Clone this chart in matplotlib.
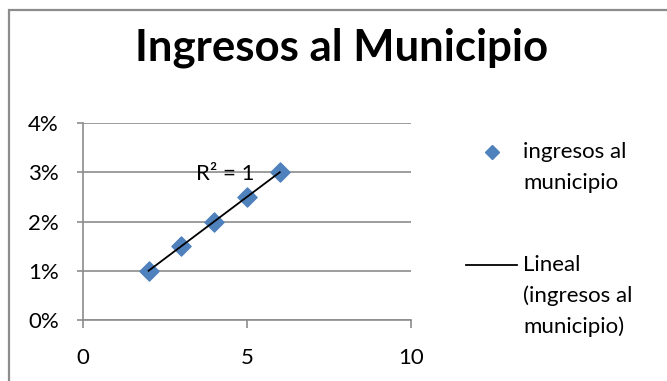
import matplotlib
matplotlib.use("Agg")
import numpy as np
import matplotlib.pyplot as plt
from matplotlib.lines import Line2D
from matplotlib.patches import Rectangle
from matplotlib.ticker import PercentFormatter

plt.rcParams["font.family"] = ["Lato", "DejaVu Sans"]

x_vals = [2, 3, 4, 5, 6]
ingresos = [0.01, 0.015, 0.02, 0.025, 0.03]
serie_label = ["ingresos al", "municipio"]
trend_label = ["Lineal", "(ingresos al", "municipio)"]

W, H = 667, 381
BLUE = "#4f81bd"
GRAY = "#8c8c8c"
FS = 16

fig = plt.figure(figsize=(W / 100, H / 100), dpi=100)
ax = fig.add_axes([83 / W, 1 - 320 / H, (411 - 83) / W, (320 - 123) / H])

# outer chart frame
fig.add_artist(Rectangle((9 / W, -0.1), 1.1, 1 - 10 / H + 0.1,
                         transform=fig.transFigure, fill=False,
                         edgecolor=GRAY, linewidth=1.6))

ax.scatter(x_vals, ingresos, marker="D", s=95, color=BLUE, zorder=3)

# linear fit
coef = np.polyfit(x_vals, ingresos, 1)
fx = np.array([min(x_vals), max(x_vals)])
ax.plot(fx, np.polyval(coef, fx), color="black", linewidth=1.3, zorder=4)
y = np.array(ingresos)
pred = np.polyval(coef, x_vals)
r2 = 1 - np.sum((y - pred) ** 2) / np.sum((y - y.mean()) ** 2)
ax.text(4.33, 0.0296, f"R² = {r2:.0f}", ha="center", va="center", fontsize=FS)

ax.set_xlim(0, 10)
ax.set_ylim(0, 0.04)
ax.set_xticks([0, 5, 10])
ax.set_yticks([0, 0.01, 0.02, 0.03, 0.04])
ax.yaxis.set_major_formatter(PercentFormatter(1.0, decimals=0))
ax.grid(axis="y", color=GRAY, linewidth=1.2)
ax.set_axisbelow(True)
for side in ["top", "right"]:
    ax.spines[side].set_visible(False)
for side in ["left", "bottom"]:
    ax.spines[side].set_color(GRAY)
    ax.spines[side].set_linewidth(1.2)
ax.tick_params(colors=GRAY, labelcolor="black", labelsize=FS, width=1.2)
ax.tick_params(axis="x", length=6, pad=14)
ax.tick_params(axis="y", length=4.5, pad=13)

fig.text(342 / W, 1 - 48 / H, "Ingresos al Municipio", ha="center",
         va="center", fontsize=31.5, fontweight="bold")


# legend, one row per entry, handle level with the first text line
def legend_text(lines, y_first):
    for i, line in enumerate(lines):
        fig.text(523 / W, 1 - (y_first + 31 * i + 6) / H, line,
                 ha="left", va="baseline", fontsize=FS)


fig.add_artist(Line2D([492 / W], [1 - 152 / H], marker="D", markersize=7,
                      color=BLUE, linestyle="none",
                      transform=fig.transFigure))
legend_text(serie_label, 152)
fig.add_artist(Line2D([466 / W, 517 / W], [1 - 265 / H] * 2, color="black",
                      linewidth=1.3, transform=fig.transFigure))
legend_text(trend_label, 265)

fig.savefig("out.png", dpi=100)
